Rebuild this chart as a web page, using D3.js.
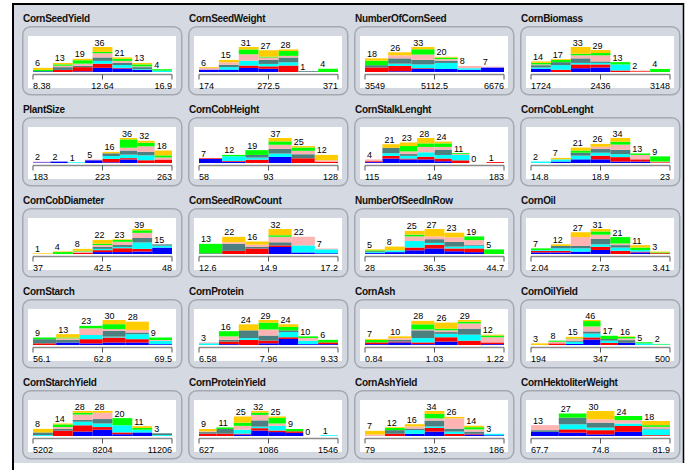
<!DOCTYPE html>
<html>
<head>
<meta charset="utf-8">
<script src="https://cdn.jsdelivr.net/npm/d3@7"></script>
<style>
  body { margin: 0; background: #fff; }
  svg { display: block; }
</style>
</head>
<body>
<script>
// panel titles, row by row
const titles = [
  "CornSeedYield", "CornSeedWeight", "NumberOfCornSeed", "CornBiomass",
  "PlantSize", "CornCobHeight", "CornStalkLenght", "CornCobLenght",
  "CornCobDiameter", "CornSeedRowCount", "NumberOfSeedInRow", "CornOil",
  "CornStarch", "CornProtein", "CornAsh", "CornOilYield",
  "CornStarchYield", "CornProteinYield", "CornAshYield", "CornHektoliterWeight"
];

// min / mid / max labels under each histogram
const tickLabels = [
  ["8.38", "12.64", "16.9"], ["174", "272.5", "371"], ["3549", "5112.5", "6676"], ["1724", "2436", "3148"],
  ["183", "223", "263"], ["58", "93", "128"], ["115", "149", "183"], ["14.8", "18.9", "23"],
  ["37", "42.5", "48"], ["12.6", "14.9", "17.2"], ["28", "36.35", "44.7"], ["2.04", "2.73", "3.41"],
  ["56.1", "62.8", "69.5"], ["6.58", "7.96", "9.33"], ["0.84", "1.03", "1.22"], ["194", "347", "500"],
  ["5202", "8204", "11206"], ["627", "1086", "1546"], ["79", "132.5", "186"], ["67.7", "74.8", "81.9"]
];

// groups stacked in each bin, bottom to top
const groups = ["g1", "g2", "g3", "g4", "g5", "g6", "g7"];
const groupColors = ["#0000ff", "#ff0000", "#00ffff", "#4d7f80", "#ffb3b3", "#00ff00", "#ffcc00"];

// per panel, per bin: count of each group
const binGroups = [
  [[1,0,0,0,0,2,3],[0,3,0,4,2,2,2],[1,6,0,2,3,5,2],[6,6,4,5,6,2,7],[5,1,4,3,3,3,2],[3,0,1,3,1,3,2],[0,0,2,0,0,2,0]],
  [[3,0,0,0,2,0,1],[3,0,3,3,3,0,3],[5,3,6,0,8,6,3],[4,3,3,5,3,1,8],[0,8,4,6,2,6,2],[0,0,0,1,0,0,0],[0,0,0,0,0,4,0]],
  [[0,6,0,3,0,6,3],[1,7,3,7,4,0,4],[4,1,5,6,7,7,3],[4,0,8,3,2,2,1],[3,0,2,0,3,0,0],[6,0,0,0,1,0,0]],
  [[4,0,2,3,1,2,2],[0,3,6,4,0,3,1],[5,5,2,6,4,2,9],[6,4,2,2,8,3,4],[0,2,8,0,0,3,0],[0,1,0,0,1,0,0],[0,0,0,0,0,4,0]],
  [[1,0,0,0,1,0,0],[2,0,0,0,0,0,0],[0,0,1,0,0,0,0],[4,0,0,0,1,0,0],[1,5,4,4,0,0,2],[5,2,5,6,4,12,2],[0,4,7,5,8,5,3],[0,5,0,0,3,3,7]],
  [[6,1,0,0,0,0,0],[2,1,7,0,0,2,0],[0,5,3,4,0,7,0],[9,0,5,7,6,5,5],[0,7,0,6,5,5,2],[0,2,0,0,2,0,8]],
  [[1,1,0,0,2,0,0],[5,3,3,6,0,0,4],[4,1,3,2,3,6,4],[4,3,5,0,6,4,6],[2,3,4,6,3,4,2],[0,3,6,0,1,1,0],[0,0,0,0,0,0,0],[0,1,0,0,0,0,0]],
  [[0,0,2,0,0,0,0],[2,0,3,0,0,0,2],[5,0,5,4,0,3,4],[5,5,4,5,3,0,4],[2,6,4,6,7,4,5],[2,3,0,0,6,2,0],[0,1,0,0,1,7,0]],
  [[0,0,0,0,0,0,1],[0,0,0,0,0,3,1],[0,2,0,0,2,1,3],[3,3,2,3,3,2,6],[3,6,2,3,5,3,1],[4,4,10,7,8,4,2],[10,0,3,2,0,0,0]],
  [[0,0,0,1,0,12,0],[0,4,0,9,2,0,7],[0,7,0,2,3,0,4],[9,2,0,4,7,2,8],[2,0,9,0,11,0,0],[1,0,5,0,1,0,0]],
  [[1,0,1,1,0,1,1],[2,0,2,0,0,0,4],[4,3,7,0,5,2,4],[6,4,2,4,3,0,8],[3,3,2,5,5,0,5],[2,4,3,1,5,4,0],[0,0,0,0,0,5,0]],
  [[2,2,1,0,0,2,0],[2,2,3,3,0,0,2],[3,0,4,3,11,0,6],[5,4,3,7,5,4,3],[0,4,4,3,2,8,0],[2,1,2,0,0,3,3],[0,1,0,0,0,1,1]],
  [[0,2,0,5,0,2,0],[3,0,0,3,2,1,4],[2,5,5,0,8,3,0],[3,6,1,7,2,6,5],[3,4,6,2,3,0,10],[1,0,4,0,1,3,0]],
  [[0,0,2,0,1,0,0],[1,3,0,2,4,6,0],[0,6,2,9,0,0,7],[2,3,0,6,7,8,3],[7,2,6,2,0,4,3],[1,0,4,0,3,2,0],[1,2,0,0,0,3,0]],
  [[1,2,0,0,0,3,1],[3,1,0,2,2,0,2],[1,2,5,9,1,6,4],[4,5,4,2,2,2,7],[0,5,7,7,6,2,2],[1,2,0,0,6,2,1]],
  [[0,0,0,0,0,0,3],[0,3,0,0,3,2,0],[2,0,4,2,3,1,3],[10,4,7,4,9,10,2],[0,4,4,3,0,6,0],[4,0,0,5,3,3,1],[0,0,3,0,0,2,0],[0,0,1,0,0,1,0]],
  [[0,0,1,3,0,0,4],[0,6,0,2,2,3,1],[5,7,4,2,6,2,2],[7,3,4,5,7,0,2],[2,2,8,0,0,8,0],[4,0,3,0,0,2,2],[0,0,1,2,0,0,0]],
  [[0,3,0,2,1,0,3],[0,3,0,6,0,2,0],[2,1,5,0,5,4,8],[7,3,2,8,7,3,2],[5,2,6,0,3,7,2],[4,2,0,0,0,3,0],[0,0,0,0,0,0,0],[0,0,1,0,0,0,0]],
  [[0,0,0,0,2,0,5],[0,3,0,5,0,3,1],[3,0,5,2,3,0,3],[6,5,2,8,3,6,4],[0,3,3,4,14,0,2],[2,1,0,3,3,3,2],[1,0,2,0,0,0,0]],
  [[5,0,0,2,6,0,0],[4,4,6,8,0,5,0],[2,5,3,6,4,0,10],[5,7,3,0,4,5,0],[0,1,7,1,2,2,5]]
];

const W = 691, H = 470;
const cols = 4;
const box = {x0: 22, y0: 26, dx: 166, dy: 91, w: 159, h: 68};

const svg = d3.select("body").append("svg")
    .attr("width", W)
    .attr("height", H);

// frame
svg.append("rect").attr("x", 14).attr("y", 5).attr("width", 669).attr("height", 458).attr("fill", "#d5d9e1");
svg.append("line").attr("x1", 12).attr("x2", 684).attr("y1", 4).attr("y2", 4).attr("stroke", "#000").attr("stroke-width", 2);
svg.append("line").attr("x1", 13).attr("x2", 13).attr("y1", 3).attr("y2", H).attr("stroke", "#000").attr("stroke-width", 2);
svg.append("line").attr("x1", 683.5).attr("x2", 683.5).attr("y1", 3).attr("y2", 463).attr("stroke", "#000").attr("stroke-width", 1.5);

const stack = d3.stack().keys(d3.range(groups.length));

titles.forEach((title, i) => {
    const bx = box.x0 + (i % cols) * box.dx;
    const by = box.y0 + Math.floor(i / cols) * box.dy;
    const g = svg.append("g").attr("transform", `translate(${bx},${by})`);

    g.append("text")
        .attr("x", 1).attr("y", -4)
        .attr("font-family", "Liberation Sans, Arial, sans-serif")
        .attr("font-size", 10)
        .attr("font-weight", "bold")
        .attr("letter-spacing", -0.3)
        .attr("fill", "#111")
        .text(title);

    g.append("rect")
        .attr("x", 0.75).attr("y", 0.75)
        .attr("width", box.w).attr("height", box.h)
        .attr("rx", 8)
        .attr("fill", "#d3d7df")
        .attr("stroke", "#a4a8b0")
        .attr("stroke-width", 1.5);

    g.append("rect")
        .attr("x", 6).attr("y", 10)
        .attr("width", 148).attr("height", 52)
        .attr("fill", "#fff");

    const bins = binGroups[i];
    const totals = bins.map(b => d3.sum(b));
    const baseY = 46;

    const x = d3.scaleBand()
        .domain(d3.range(bins.length))
        .range([11, 150])
        .padding(0);
    const y = d3.scaleLinear()
        .domain([0, d3.max(totals)])
        .range([baseY, baseY - 25]);

    const series = stack(bins);
    g.append("g").selectAll("g")
        .data(series)
        .join("g")
          .attr("fill", (d, k) => groupColors[k])
        .selectAll("rect")
        .data(d => d.map((v, j) => ({v, j})))
        .join("rect")
          .attr("x", d => x(d.j))
          .attr("width", x.bandwidth())
          .attr("y", d => y(d.v[1]))
          .attr("height", d => y(d.v[0]) - y(d.v[1]));

    g.append("g").selectAll("text")
        .data(totals)
        .join("text")
          .attr("x", (d, j) => x(j) + 2)
          .attr("y", d => y(d) - 1.5)
          .attr("font-family", "Liberation Sans Narrow, Arial, sans-serif")
          .attr("font-size", 9)
          .attr("fill", "#000")
          .text(d => d);

    // axis: line with ticks at both ends and the middle
    const axisY = baseY + 2.5;
    const ax = d3.scaleLinear().domain([0, 2]).range([11, 150]);
    g.append("line")
        .attr("x1", ax(0)).attr("x2", ax(2))
        .attr("y1", axisY).attr("y2", axisY)
        .attr("stroke", "#8a8a8a").attr("stroke-width", 1.5);
    g.append("g").selectAll("line")
        .data([0, 1, 2])
        .join("line")
          .attr("x1", d => ax(d)).attr("x2", d => ax(d))
          .attr("y1", axisY).attr("y2", axisY + 5)
          .attr("stroke", "#555").attr("stroke-width", 1);
    g.append("g").selectAll("text")
        .data(tickLabels[i])
        .join("text")
          .attr("x", (d, k) => ax(k))
          .attr("y", axisY + 14)
          .attr("text-anchor", (d, k) => ["start", "middle", "end"][k])
          .attr("font-family", "Liberation Sans Narrow, Arial, sans-serif")
          .attr("font-size", 9)
          .attr("fill", "#000")
          .text(d => d);
});
</script>
</body>
</html>
